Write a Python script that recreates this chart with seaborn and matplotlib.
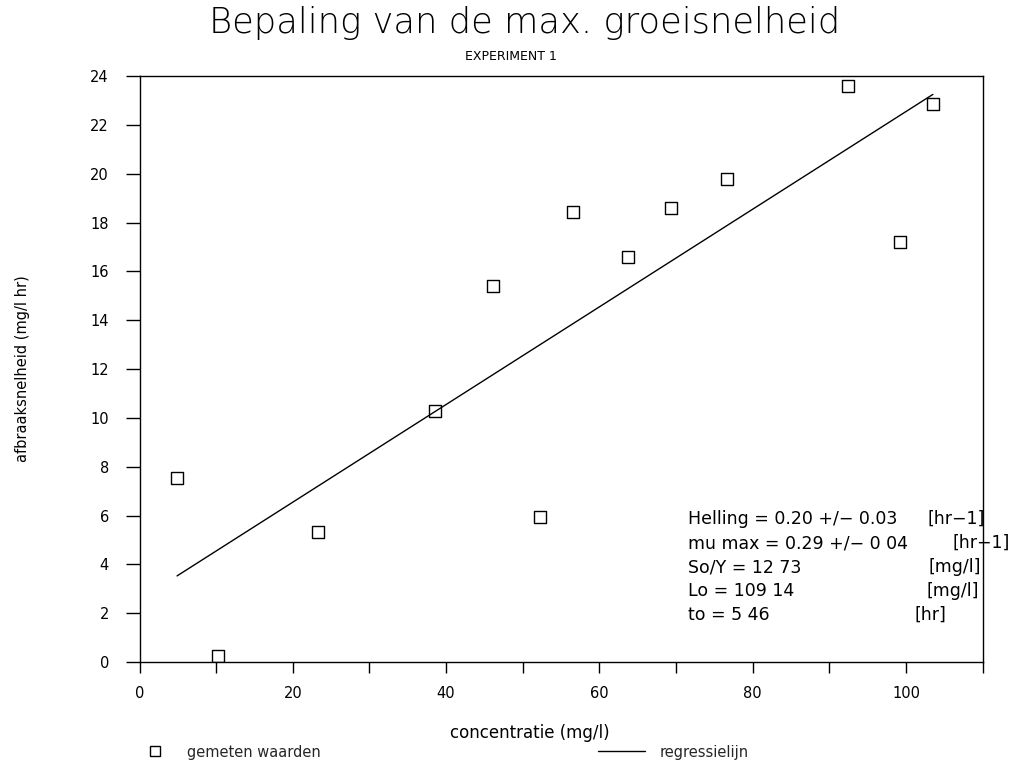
import matplotlib
matplotlib.use("Agg")
import matplotlib.pyplot as plt
from matplotlib.lines import Line2D
import numpy as np
import pandas as pd
import seaborn as sns

# measured degradation rate vs. concentration
concentratie = [4.9, 10.3, 23.3, 38.6, 46.1, 52.2, 56.6, 63.7, 69.4, 76.6, 92.4, 99.2, 103.5]
afbraaksnelheid = [7.55, 0.23, 5.32, 10.28, 15.4, 5.94, 18.43, 16.58, 18.6, 19.78, 23.59, 17.2, 22.85]

# regression parameters
helling = 0.20
so_y = 12.73
param_labels = ["Helling = 0.20 +/\u2212 0.03", "mu max = 0.29 +/\u2212 0 04",
                "So/Y = 12 73", "Lo = 109 14", "to = 5 46"]
param_units = ["[hr\u22121]", "[hr\u22121]", "[mg/l]", "[mg/l]", "[hr]"]

x_ticks = list(range(0, 111, 10))
x_ticklabels = [str(v) if v % 20 == 0 else "" for v in x_ticks]
y_ticks = list(range(0, 25, 2))

sns.set_theme(style="white")
plt.rcParams["font.family"] = ["DejaVu Sans"]

W, H = 1013, 763
fig = plt.figure(figsize=(W / 100, H / 100), dpi=100)
ax = fig.add_axes([139.5 / W, 1 - 662 / H, (982.7 - 139.5) / W, (662 - 76) / H])

df = pd.DataFrame({"x": concentratie, "y": afbraaksnelheid})
sns.scatterplot(data=df, x="x", y="y", ax=ax, marker="s", s=75,
                facecolor="none", edgecolor="black", linewidth=1.0, zorder=3)

intercept = helling * so_y
xfit = np.array([min(concentratie), max(concentratie)])
fit = pd.DataFrame({"x": xfit, "y": intercept + helling * xfit})
sns.lineplot(data=fit, x="x", y="y", ax=ax, color="black", linewidth=1.0)

ax.set_xlim(0, 110)
ax.set_ylim(0, 24)
ax.set_xticks(x_ticks)
ax.set_xticklabels(x_ticklabels)
ax.set_yticks(y_ticks)
ax.set_yticklabels([str(v) for v in y_ticks])
ax.tick_params(axis="x", direction="out", length=8, width=1, pad=9,
               labelsize=10.5, bottom=True, colors="black")
ax.tick_params(axis="y", direction="out", length=10, width=1, pad=12,
               labelsize=10.5, left=True, colors="black")
ax.set_xlabel("")
ax.set_ylabel("")
for sp in ax.spines.values():
    sp.set_visible(True)
    sp.set_color("black")
    sp.set_linewidth(1.0)

# titles
fig.text(525 / W, 1 - 23 / H, "Bepaling van de max. groeisnelheid",
         ha="center", va="center", fontsize=25.5, fontweight="light", color="black")
fig.text(511 / W, 1 - 57 / H, "EXPERIMENT 1", ha="center", va="center",
         fontsize=9, color="black")

# axis titles
fig.text(530 / W, 1 - 733 / H, "concentratie (mg/l)", ha="center", va="center",
         fontsize=12, color="black")
fig.text(22 / W, 1 - 369 / H, "afbraaksnelheid (mg/l hr)", ha="center", va="center",
         rotation=90, fontsize=10.5, color="black")

# regression parameters box
rows_y = [519, 543, 567, 591, 615]
unit_right = [985, 1010, 981, 979, 946]
for lbl, unit, yy, ur in zip(param_labels, param_units, rows_y, unit_right):
    fig.text(688 / W, 1 - yy / H, lbl, ha="left", va="center", fontsize=12.5, color="black")
    fig.text(ur / W, 1 - yy / H, unit, ha="right", va="center", fontsize=12.5, color="black")

# legend below the axes
h_pts = Line2D([], [], marker="s", linestyle="none", markerfacecolor="none",
               markeredgecolor="black", markersize=7.5, markeredgewidth=1.0)
h_line = Line2D([], [], color="black", linewidth=1.0)
fig.legend([h_pts], ["gemeten waarden"], loc="center left",
           bbox_to_anchor=(132 / W, 1 - 752 / H), frameon=False, fontsize=10.5,
           handlelength=3.2, handletextpad=0.6, borderaxespad=0, borderpad=0)
fig.legend([h_line], ["regressielijn"], loc="center left",
           bbox_to_anchor=(598 / W, 1 - 752 / H), frameon=False, fontsize=10.5,
           handlelength=3.2, handletextpad=1.0, borderaxespad=0, borderpad=0)

fig.savefig("out.png", dpi=100, facecolor="white")
